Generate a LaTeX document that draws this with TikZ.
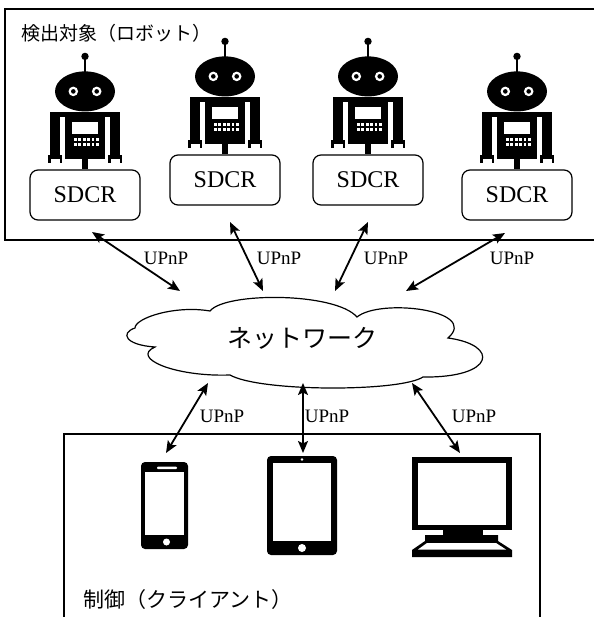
\documentclass[tikz,border=0pt]{standalone}
\usepackage{fontspec}
\setmainfont{Liberation Serif}
\newfontfamily\jp{Noto Sans CJK JP}
\usetikzlibrary{arrows.meta}

\tikzset{
  robot/.pic={
    % antenna and head
    \fill (0,-113) circle (3.7);
    \fill (-1.2,-112) rectangle (1.2,-96);
    \fill (0,-78) ellipse (30 and 20);
    \foreach \s in {-1,1} {
      \fill[white] (\s*11.7,-78) circle (4.8);
      \fill (\s*11.7,-78) circle (2.3);
      % arm with gripper
      \fill (\s*25,-57) rectangle (\s*35,-14);
      \fill (\s*23,-14) rectangle (\s*37,-10);
      \fill (\s*23,-10) rectangle (\s*25.5,-6);
      \fill (\s*34.5,-10) rectangle (\s*37,-6);
    }
    % body
    \fill (-35,-57) rectangle (35,-52);
    \fill (-20,-57) rectangle (20,-10);
    \fill[white] (-13.3,-47) rectangle (13.3,-35);
    \foreach \i in {0,...,5}
      \foreach \j in {0,1}
        \fill[white] (-11+\i*4.4,-31+\j*4.5) rectangle ++(2.7,2.7);
    \fill (-3,-10) rectangle (3,0);
  }
}

\begin{document}
\begin{tikzpicture}[x=1pt, y=-1pt,
    frame/.style={line width=1.2pt},
    sdcr/.style={draw, line width=1.2pt, rounded corners=8pt, fill=white,
      minimum width=110pt, minimum height=50pt, font=\fontsize{24}{28}\selectfont},
    proto/.style={font=\fontsize{19}{22}\selectfont},
    link/.style={{Stealth[length=12pt,width=10pt,inset=2.5pt]}-{Stealth[length=12pt,width=10pt,inset=2.5pt]}, line width=1.8pt}]
    \useasboundingbox (0,0) rectangle (594,617);

    % robots (detected side)
    \draw[frame] (594,9) -- (5,9) -- (5,240) -- (594,240);
    \draw (18,33) node [anchor=west, font=\jp\fontsize{19}{22}\selectfont] (robots) {検出対象（ロボット）};

    \draw (85,195) node [sdcr] (s1) {SDCR};
    \draw (225,180) node [sdcr] (s2) {SDCR};
    \draw (368,180) node [sdcr] (s3) {SDCR};
    \draw (517,195) node [sdcr] (s4) {SDCR};
    \pic at (s1.north) {robot};
    \pic at (s2.north) {robot};
    \pic at (s3.north) {robot};
    \pic at (s4.north) {robot};

    % network cloud
    \draw[line width=1.2pt] (135,328) .. controls (135,318) and (175,305) .. (210,311)
      .. controls (225,292) and (335,292) .. (357,317)
      .. controls (380,298) and (480,310) .. (448,338)
      .. controls (500,345) and (495,378) .. (423,377)
      .. controls (400,392) and (260,392) .. (230,375)
      .. controls (175,377) and (130,358) .. (155,347)
      .. controls (125,345) and (120,333) .. cycle;
    \draw (302,338) node [font=\jp\fontsize{25}{28}\selectfont] (net) {ネットワーク};

    % arrow ends
    \coordinate (a1) at (92,232);  \coordinate (n1) at (180,291);
    \coordinate (a2) at (230,222); \coordinate (n2) at (263,291);
    \coordinate (a3) at (368,222); \coordinate (n3) at (335,291);
    \coordinate (a4) at (505,233); \coordinate (n4) at (406,291);
    \coordinate (m1) at (208,383); \coordinate (d1) at (166,453);
    \coordinate (m2) at (303,383); \coordinate (d2) at (303,453);
    \coordinate (m3) at (412,383); \coordinate (d3) at (460,453);

    \draw[link] (a1) -- (n1);
    \draw[link] (a2) -- (n2);
    \draw[link] (a3) -- (n3);
    \draw[link] (a4) -- (n4);
    \draw[link] (m1) -- (d1);
    \draw[link] (m2) -- (d2);
    \draw[link] (m3) -- (d3);

    \draw (166,258) node [proto] (p1) {UPnP};
    \draw (279,258) node [proto] (p2) {UPnP};
    \draw (386,258) node [proto] (p3) {UPnP};
    \draw (512,258) node [proto] (p4) {UPnP};
    \draw (222,416) node [proto] (q1) {UPnP};
    \draw (327,416) node [proto] (q2) {UPnP};
    \draw (474,416) node [proto] (q3) {UPnP};

    % clients
    \draw[frame] (64,617) -- (64,434) -- (540,434) -- (540,617);
    \draw (80,600) node [anchor=west, font=\jp\fontsize{21}{24}\selectfont] (clients) {制御（クライアント）};

    % smartphone
    \fill[rounded corners=4pt] (141,462) rectangle (188,549);
    \fill[white] (145,472) rectangle (184,535);
    \fill[white, rounded corners=1pt] (157,466.5) rectangle (177,469);
    \fill[white] (166.5,542) circle (3.5);

    % tablet
    \fill[rounded corners=4pt] (267,456) rectangle (337,555);
    \fill[white] (273,463) rectangle (331,541);
    \fill[white] (302,459.5) circle (1.3);
    \fill[white] (302,548) circle (4);

    % desktop
    \fill (412,457) rectangle (512,530);
    \fill[white] (418,463) rectangle (506,525);
    \fill (443,530) rectangle (483,535);
    \fill (425,535) -- (498,535) -- (498,541) -- (512,550) -- (512,557)
      -- (412,557) -- (412,550) -- (425,541) -- cycle;
    \fill[white] (427,543) -- (496,543) -- (506,549.5) -- (418,549.5) -- cycle;
\end{tikzpicture}
\end{document}
